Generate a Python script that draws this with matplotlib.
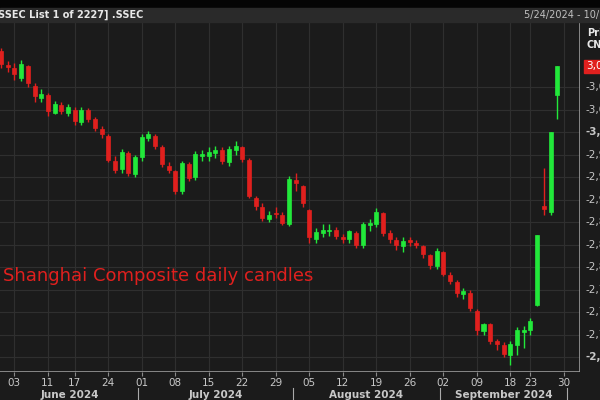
import matplotlib
matplotlib.use("Agg")
import matplotlib.pyplot as plt
from matplotlib.transforms import blended_transform_factory

# Shanghai Composite daily candles, 30 May -> 27 Sep 2024
dates = ["05-30", "05-31", "06-03", "06-04", "06-05", "06-06", "06-07", "06-11", "06-12", "06-13",
         "06-14", "06-17", "06-18", "06-19", "06-20", "06-21", "06-24", "06-25", "06-26", "06-27",
         "06-28", "07-01", "07-02", "07-03", "07-04", "07-05", "07-08", "07-09", "07-10", "07-11",
         "07-12", "07-15", "07-16", "07-17", "07-18", "07-19", "07-22", "07-23", "07-24", "07-25",
         "07-26", "07-29", "07-30", "07-31", "08-01", "08-02", "08-05", "08-06", "08-07", "08-08",
         "08-09", "08-12", "08-13", "08-14", "08-15", "08-16", "08-19", "08-20", "08-21", "08-22",
         "08-23", "08-26", "08-27", "08-28", "08-29", "08-30", "09-02", "09-03", "09-04", "09-05",
         "09-06", "09-09", "09-10", "09-11", "09-12", "09-13", "09-18", "09-19", "09-20", "09-23",
         "09-24", "09-25", "09-26", "09-27"]
opens = [3108, 3090, 3086, 3072, 3088, 3062, 3046, 3049, 3026, 3036,
         3026, 3030, 3014, 3029, 3017, 3004, 2995, 2962, 2951, 2972,
         2944, 2967, 2992, 2995, 2980, 2955, 2948, 2921, 2957, 2940,
         2968, 2968, 2972, 2976, 2960, 2976, 2980, 2963, 2912, 2900,
         2884, 2892, 2890, 2878, 2936, 2928, 2896, 2858, 2866, 2868,
         2870, 2860, 2857, 2866, 2849, 2876, 2878, 2892, 2865, 2856,
         2848, 2856, 2852, 2848, 2836, 2822, 2840, 2810, 2800, 2784,
         2786, 2762, 2735, 2744, 2721, 2716, 2703, 2716, 2734, 2736,
         2770, 2901, 2893, 3049]
highs = [3112, 3095, 3092, 3096, 3090, 3066, 3058, 3052, 3042, 3040,
         3038, 3034, 3033, 3032, 3020, 3008, 2998, 2968, 2978, 2975,
         2970, 2998, 3002, 2998, 2983, 2960, 2950, 2962, 2960, 2975,
         2976, 2980, 2982, 2980, 2982, 2988, 2982, 2966, 2915, 2906,
         2895, 2900, 2893, 2942, 2945, 2930, 2898, 2872, 2878, 2878,
         2874, 2864, 2870, 2868, 2880, 2884, 2899, 2894, 2870, 2860,
         2860, 2860, 2856, 2850, 2838, 2846, 2842, 2814, 2803, 2792,
         2790, 2764, 2746, 2746, 2724, 2720, 2722, 2740, 2742, 2752,
         2863, 2952, 3000, 3088]
lows = [3086, 3080, 3070, 3068, 3060, 3040, 3040, 3022, 3024, 3024,
        3022, 3010, 3010, 3014, 3002, 2992, 2960, 2946, 2946, 2942,
        2940, 2962, 2988, 2978, 2954, 2945, 2918, 2918, 2935, 2936,
        2962, 2962, 2965, 2958, 2955, 2970, 2960, 2912, 2896, 2882,
        2880, 2886, 2876, 2875, 2922, 2900, 2852, 2852, 2860, 2862,
        2858, 2852, 2852, 2846, 2845, 2868, 2874, 2862, 2852, 2843,
        2840, 2848, 2845, 2832, 2818, 2818, 2808, 2798, 2780, 2778,
        2762, 2730, 2730, 2718, 2710, 2700, 2689, 2703, 2712, 2730,
        2768, 2889, 2889, 3017]
closes = [3091, 3087, 3078, 3091, 3065, 3048, 3051, 3028, 3037, 3028,
          3033, 3015, 3030, 3018, 3005, 2998, 2963, 2950, 2973, 2946,
          2967, 2994, 2997, 2982, 2957, 2950, 2922, 2959, 2939, 2971,
          2971, 2974, 2976, 2962, 2977, 2982, 2964, 2915, 2901, 2886,
          2890, 2891, 2879, 2938, 2932, 2905, 2860, 2867, 2869, 2870,
          2862, 2858, 2868, 2850, 2877, 2879, 2893, 2866, 2857, 2849,
          2855, 2854, 2849, 2837, 2823, 2842, 2811, 2802, 2785, 2788,
          2765, 2736, 2744, 2721, 2717, 2704, 2717, 2736, 2736, 2748,
          2863, 2897, 3000, 3088]

day_ticks = ["06-03", "06-11", "06-17", "06-24", "07-01", "07-08", "07-15", "07-22", "07-29",
             "08-05", "08-12", "08-19", "08-26", "09-02", "09-09", "09-18", "09-23"]
months = ["June 2024", "July 2024", "August 2024", "September 2024"]
price_ticks = [2700, 2730, 2760, 2790, 2820, 2850, 2880, 2910, 2940, 2970, 3000, 3030, 3060]
last_price = 3088

BG = "#1b1b1b"
GRID = "#2f2f2f"
TXT = "#c8c8c8"
UP = "#22e83a"
DOWN = "#e0201e"

fig = plt.figure(figsize=(6, 4), dpi=100, facecolor=BG)
ax = fig.add_axes([0, 28 / 400, 580 / 600, 350 / 400], facecolor=BG)

idx = {d: i for i, d in enumerate(dates)}
for i in range(len(dates)):
    o, h, l, c = opens[i], highs[i], lows[i], closes[i]
    col = UP if c >= o else DOWN
    ax.vlines(i, l, h, color=col, lw=1.0, zorder=3)
    lo, hi = min(o, c), max(o, c)
    ax.bar(i, max(hi - lo, 1.5), bottom=lo, width=0.6, color=col, edgecolor=col, lw=0.5, zorder=4)

ax.set_xlim(-0.15, 86.4)
ax.set_ylim(2680, 3147)

# trading-day positions for ticks (09-30 is the next session after the last candle)
xt = [idx[d] for d in day_ticks] + [len(dates)]
xl = [d[-2:] for d in day_ticks] + ["30"]
ax.set_xticks(xt)
ax.set_xticklabels(xl)
ax.set_yticks(price_ticks)
ax.tick_params(axis="x", colors="#8a8a8a", labelcolor=TXT, labelsize=7.5, length=3, pad=1)
ax.tick_params(axis="y", left=False, labelleft=False)
ax.grid(True, color=GRID, lw=0.8)
for s in ax.spines.values():
    s.set_visible(False)
ax.axhline(2680, color="#9a9a9a", lw=1.2)
ax.axvline(86.4, color="#9a9a9a", lw=1.2)

# month labels and separators, in the bottom strip of the figure
tr = blended_transform_factory(ax.transData, fig.transFigure)
sep = [-0.1, idx["07-01"] - 0.5, idx["08-01"] - 0.5, idx["09-02"] - 0.5, len(dates) + 0.5]
for x in sep[1:]:
    ax.plot([x, x], [0, 12 / 400], transform=tr, color="#aaaaaa", lw=0.8, clip_on=False)
for k, m in enumerate(months):
    mid = (sep[k] + sep[k + 1]) / 2
    ax.text(mid, 5 / 400, m, transform=tr, ha="center", va="center",
            color=TXT, fontsize=7.5, fontweight="bold")
ax.text(-0.6, 5 / 400, "4", transform=tr, ha="right", va="center",
        color=TXT, fontsize=7.5, fontweight="bold")

# right price labels (cut by the figure edge like the original)
for p in price_ticks:
    lab = f"{p:,}"
    ax.text(1.01, p, "-" + lab, transform=ax.get_yaxis_transform(), va="center", ha="left",
            color=TXT, fontsize=7.5, clip_on=False,
            fontweight="bold" if p in (2700, 3000) else "normal")
ax.text(1.01, last_price, f"{last_price:,}", transform=ax.get_yaxis_transform(), va="center", ha="left",
        color="#ffffff", fontsize=7.5, clip_on=False,
        bbox=dict(boxstyle="square,pad=0.15", fc=DOWN, ec=DOWN))

ax.text(0.005, 2808, "Shanghai Composite daily candles", color=DOWN, fontsize=13, ha="left", va="center",
        transform=ax.get_yaxis_transform())

# header
fig.patches.append(plt.Rectangle((0, 392 / 400), 1, 8 / 400, transform=fig.transFigure, color="#050505"))
fig.patches.append(plt.Rectangle((0, 378 / 400), 1, 14 / 400, transform=fig.transFigure, color="#2a2a2a"))
fig.text(-0.003, 385 / 400, "SSEC List 1 of 2227] .SSEC", color="#e8e8e8", fontsize=7, fontweight="bold", va="center")
fig.text(0.873, 385 / 400, "5/24/2024 - 10/11/2024", color="#c0c0c0", fontsize=7, va="center")
fig.text(0.978, 367 / 400, "Price", color="#e8e8e8", fontsize=7, fontweight="bold", va="center")
fig.text(0.978, 355 / 400, "CNY", color="#e8e8e8", fontsize=7, fontweight="bold", va="center")

fig.savefig("out.png", dpi=100, facecolor=BG)
